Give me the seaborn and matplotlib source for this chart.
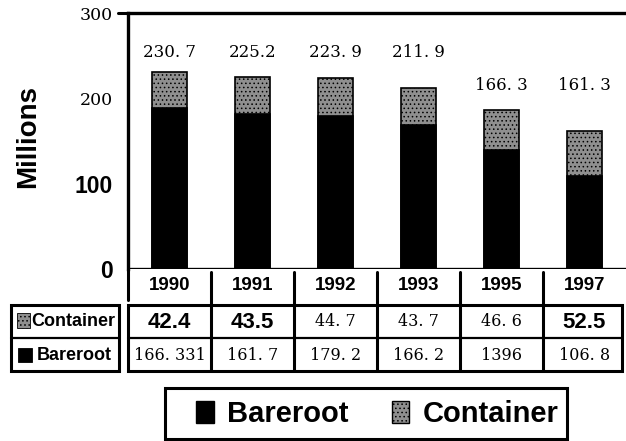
import matplotlib
matplotlib.use('Agg')
import matplotlib.pyplot as plt
import matplotlib.transforms as mtransforms
from matplotlib.patches import Patch, Rectangle
import seaborn as sns
import pandas as pd

# ---------------- data ----------------
years = ['1990', '1991', '1992', '1993', '1995', '1997']
bareroot = [188.3, 181.7, 179.2, 168.2, 139.6, 108.8]
container = [42.4, 43.5, 44.7, 43.7, 46.6, 52.5]
total_labels = ['230. 7', '225.2', '223. 9', '211. 9', '166. 3', '161. 3']
container_text = ['42.4', '43.5', '44. 7', '43. 7', '46. 6', '52.5']
container_bold = [True, True, False, False, False, True]
bareroot_text = ['166. 331', '161. 7', '179. 2', '166. 2', '1396', '106. 8']
ytick_vals = [0, 100, 200, 300]
ytick_labels = ['0', '100', '200', '300']
series_names = ['Bareroot', 'Container']

sns.set_style('white')
plt.rcParams['font.family'] = ['Liberation Sans', 'DejaVu Sans']
plt.rcParams['hatch.linewidth'] = 0.6
plt.rcParams['text.color'] = 'black'
plt.rcParams['ytick.color'] = 'black'
plt.rcParams['ytick.labelcolor'] = 'black'

W, H = 626, 441
fig = plt.figure(figsize=(W / 100, H / 100), dpi=100)
ax = fig.add_axes([128 / W, 1 - 269 / H, (W - 128) / W, (269 - 13) / H])

df = pd.DataFrame({'year': years, 'bareroot': bareroot, 'container': container})
df['total'] = df['bareroot'] + df['container']

CONT_COLOR = '#8f8f8f'
sns.barplot(data=df, x='year', y='total', color=CONT_COLOR, width=0.43,
            edgecolor='black', linewidth=1.2, saturation=1, ax=ax)
for p in ax.patches:
    p.set_hatch('....')
sns.barplot(data=df, x='year', y='bareroot', color='black', width=0.43,
            edgecolor='black', linewidth=1.2, saturation=1, ax=ax)

ax.set_xlim(-0.5, len(years) - 0.5)
ax.set_ylim(0, 300)
ax.set_xlabel('')
ax.set_ylabel('')
ax.set_xticks([])
ax.set_yticks(ytick_vals)
ax.set_yticklabels(ytick_labels)
ax.tick_params(axis='y', length=0, pad=11)
for lab, v in zip(ax.get_yticklabels(), ytick_vals):
    lab.set_color('black')
    if v in (0, 100):
        lab.set_fontsize(16.5)
        lab.set_fontweight('bold')
    else:
        lab.set_fontsize(12.5)
        lab.set_fontfamily('DejaVu Serif')
for s in ['right', 'bottom']:
    ax.spines[s].set_visible(False)
for s in ['left', 'top']:
    ax.spines[s].set_linewidth(2.4)
    ax.spines[s].set_color('black')
ax.axhline(0, color='black', lw=2.4)

# total labels
for i, t in enumerate(total_labels):
    ypos = 254 if i < 4 else 215
    ax.text(i, ypos, t, ha='center', va='center', fontsize=12,
            family='DejaVu Serif', color='black')

fig.text(28 / W, 1 - 137 / H, 'Millions', rotation=90, ha='center', va='center',
         fontsize=20, fontweight='bold', color='black')

# ---------------- table overlay ----------------
ov = fig.add_axes([0, 0, 1, 1])
ov.set_xlim(0, W)
ov.set_ylim(H, 0)
ov.axis('off')
ov.patch.set_alpha(0)
tr = mtransforms.blended_transform_factory(ax.transData, ov.transData)

lw = 2.2
ov.plot([118, 128], [13, 13], color='black', lw=lw)
ov.plot([128, 128], [269, 300], color='black', lw=lw)

# year row
for i, y in enumerate(years):
    ov.text(i, 285, y, transform=tr, ha='center', va='center', fontsize=13.5,
            fontweight='bold', color='black')
for i in range(len(years) - 1):
    ov.plot([i + 0.5, i + 0.5], [272, 305], transform=tr, color='black', lw=lw)

# data rows box
ov.add_patch(Rectangle((128, 305), 622 - 128, 66, fill=False, ec='black', lw=lw))
ov.plot([128, 622], [338, 338], color='black', lw=1.6)
for i in range(len(years) - 1):
    ov.plot([i + 0.5, i + 0.5], [305, 371], transform=tr, color='black', lw=lw)

for i, (t, b) in enumerate(zip(container_text, container_bold)):
    if b:
        ov.text(i, 322, t, transform=tr, ha='center', va='center', fontsize=16,
                fontweight='bold', color='black')
    else:
        ov.text(i, 322, t, transform=tr, ha='center', va='center', fontsize=11.5,
                family='DejaVu Serif', color='black')
for i, t in enumerate(bareroot_text):
    ov.text(i, 355, t, transform=tr, ha='center', va='center', fontsize=11.5,
            family='DejaVu Serif', color='black')

# row label box
ov.add_patch(Rectangle((11, 305), 108, 66, fill=False, ec='black', lw=lw))
ov.plot([11, 119], [338, 338], color='black', lw=1.6)
ov.add_patch(Rectangle((17, 313), 13, 15, fc=CONT_COLOR, ec='black', lw=0.6,
                       hatch='....'))
ov.add_patch(Rectangle((18, 348), 14, 14, fc='black', ec='black', lw=0.6))
ov.text(31, 322, series_names[1], ha='left', va='center', fontsize=13,
        fontweight='bold', color='black')
ov.text(37, 355, series_names[0], ha='left', va='center', fontsize=13,
        fontweight='bold', color='black')

# legend (frame drawn separately)
ov.add_patch(Rectangle((165, 388), 402, 51, fill=False, ec='black', lw=lw))
handles = [Patch(fc='black', ec='black', label=series_names[0]),
           Patch(fc=CONT_COLOR, ec='black', hatch='....', label=series_names[1])]
leg = fig.legend(handles=handles, loc='center left',
                 bbox_to_anchor=(196 / W, 1 - 414 / H), ncol=2, frameon=False,
                 prop={'weight': 'bold', 'size': 21},
                 handlelength=0.6, handleheight=0.75, handletextpad=0.45,
                 columnspacing=1.5, borderpad=0.0, borderaxespad=0)
for t in leg.get_texts():
    t.set_color('black')

fig.savefig('out.png', dpi=100)
